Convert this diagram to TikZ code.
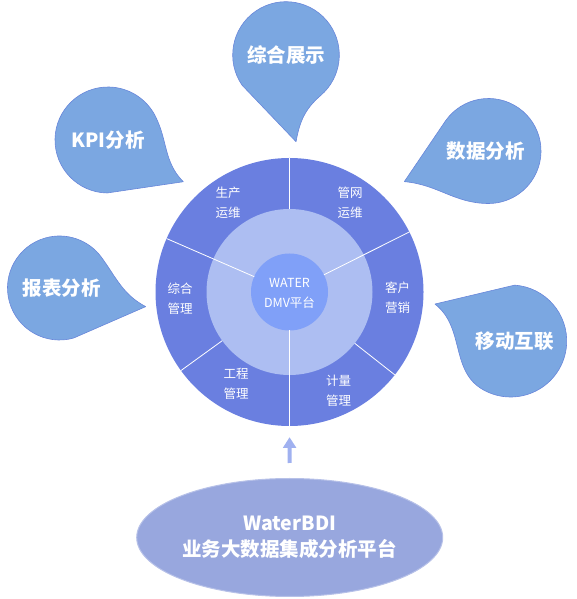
\documentclass[tikz,border=0pt]{standalone}
\usepackage{fontspec}
\setmainfont{Noto Sans CJK SC}
\usetikzlibrary{arrows.meta, positioning, shapes.geometric}
\definecolor{ringBlue}{RGB}{106,127,224}
\definecolor{midBlue}{RGB}{173,190,242}
\definecolor{coreBlue}{RGB}{128,160,248}
\definecolor{dropBlue}{RGB}{123,167,225}
\definecolor{dropEdge}{RGB}{104,134,218}
\definecolor{baseBlue}{RGB}{152,167,222}
\definecolor{arrowBlue}{RGB}{160,177,240}

\begin{document}
\begin{tikzpicture}[x=1pt, y=1pt, >=stealth,
    drop/.style={fill=dropBlue, draw=dropEdge, line width=0.6pt},
    droptext/.style={text=white, font=\fontsize{19.5}{22}\selectfont\bfseries},
    part/.style={text=white, align=center, font=\fontsize{12.5}{20}\selectfont},
    cut/.style={draw=white, line width=0.8pt}]
    \useasboundingbox (0,0) rectangle (576,599);

    \coordinate (O) at (289.5,307);
    \node[circle, fill=ringBlue, minimum size=268pt, inner sep=0pt] (ring) at (O) {};
    \fill[midBlue] (O) circle (83);
    \fill[coreBlue] (O) circle (38.5);
    \foreach \a/\r in {90/83, 270/38.5, 26.6/38.5, 156.5/38.5, 215.9/83, 321.8/83}
        \draw[cut] ([shift={(\a:\r)}]O) -- ([shift={(\a:134)}]O);

    \node[part] (core) at (289.5,305.5) {WATER\\DMV平台};
    \node[part] (shengchan) at (228,396) {生产\\运维};
    \node[part] (guanwang) at (350,396) {管网\\运维};
    \node[part] (kehu) at (397.5,301) {客户\\营销};
    \node[part] (jiliang) at (338.5,208) {计量\\管理};
    \node[part] (gongcheng) at (236,215.5) {工程\\管理};
    \node[part] (zonghe) at (180,300.5) {综合\\管理};

    \coordinate (show) at (286,544);
    \draw[drop] ([shift={(-83.4:87.3)}]show) coordinate (show-tip)
        -- ([shift={(-145.4:53.3)}]show) arc[start angle=-145.4, end angle=-409.4, radius=53.3]
        to[out=-139.4, in=80] (show-tip);
    \node[droptext] at (show) {综合展示};

    \coordinate (kpi) at (108,459);
    \draw[drop] ([shift={(-29:86.1)}]kpi) coordinate (kpi-tip)
        -- ([shift={(-91:53)}]kpi) arc[start angle=-91, end angle=-333, radius=53]
        to[out=-63, in=135] (kpi-tip);
    \node[droptext] at (kpi) {KPI分析};

    \coordinate (data) at (488.5,448);
    \draw[drop] ([shift={(200:89.6)}]data) coordinate (data-tip)
        -- ([shift={(145:52.5)}]data) arc[start angle=145, end angle=-90, radius=52.5]
        to[out=180, in=355] (data-tip);
    \node[droptext] at ([xshift=-3]data) {数据分析};

    \coordinate (report) at (59.5,311);
    \draw[drop] ([shift={(-12.2:88.2)}]report) coordinate (report-tip)
        -- ([shift={(-74.2:52)}]report) arc[start angle=-74.2, end angle=-324.2, radius=52]
        to[out=-54.2, in=152] (report-tip);
    \node[droptext] at ([xshift=2]report) {报表分析};

    \coordinate (mobile) at (510.7,258);
    \draw[drop] ([shift={(154:84.3)}]mobile) coordinate (mobile-tip)
        -- ([shift={(86:56)}]mobile) arc[start angle=86, end angle=-119, radius=56]
        to[out=151, in=322] (mobile-tip);
    \node[droptext] at ([xshift=4]mobile) {移动互联};

    \node[ellipse, fill=baseBlue, draw=baseBlue!70!white, line width=1pt,
        minimum width=306pt, minimum height=118pt, inner sep=0pt] (base) at (289.7,61.5) {};
    \node[droptext, align=center, font=\fontsize{19.5}{26}\selectfont\bfseries] (baseText) at (base) {WaterBDI\\业务大数据集成分析平台};

    \draw[-{Triangle[width=12.7pt, length=10.6pt]}, line width=4pt, arrowBlue,
        shorten <=15pt, shorten >=11pt] (base.north) -- (ring.south);
\end{tikzpicture}
\end{document}
